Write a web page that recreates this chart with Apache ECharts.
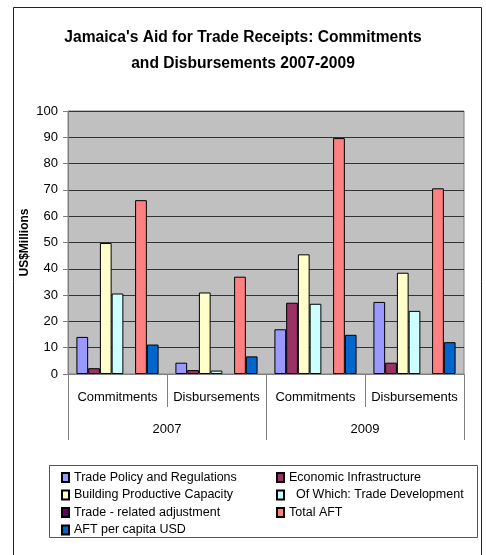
<!DOCTYPE html>
<html>
<head>
<meta charset="utf-8">
<script src="https://cdn.jsdelivr.net/npm/echarts@6/dist/echarts.min.js"></script>
<style>
html,body{margin:0;padding:0;background:#fff;}
#chart{width:486px;height:555px;}
</style>
</head>
<body>
<div id="chart"></div>
<script>
const titleText = "Jamaica's Aid for Trade Receipts: Commitments\nand Disbursements 2007-2009";
const categories = ['Commitments', 'Disbursements', 'Commitments', 'Disbursements'];
const years = ['2007', '2009'];
const yTicks = { min: 0, max: 100, interval: 10 };

const tradePolicy        = [14.1, 4.3, 17.0, 27.4];
const economicInfra      = [2.2, 1.5, 27.1, 4.3];
const buildingCapacity   = [49.8, 31.0, 45.5, 38.5];
const tradeDevelopment   = [30.6, 1.3, 26.7, 24.0];
const tradeAdjustment    = [0, 0, 0, 0];
const totalAFT           = [66.1, 37.0, 89.7, 70.6];
const aftPerCapita       = [11.2, 6.7, 14.9, 12.1];

const seriesNames = [
  'Trade Policy and Regulations',
  'Economic Infrastructure',
  'Building Productive Capacity',
  '  Of Which: Trade Development',
  'Trade - related adjustment',
  'Total AFT',
  'AFT per capita USD'
];
const seriesData = [tradePolicy, economicInfra, buildingCapacity, tradeDevelopment, tradeAdjustment, totalAFT, aftPerCapita];
const seriesColors = ['#9999FF', '#993366', '#FFFFCC', '#CCFFFF', '#660066', '#FF8080', '#0066CC'];

const FONT = 'Liberation Sans, Arial, sans-serif';

const chart = echarts.init(document.getElementById('chart'), null, { renderer: 'canvas' });

const series = seriesNames.map((name, i) => ({
  name: name,
  type: 'bar',
  xAxisIndex: 0,
  yAxisIndex: 0,
  barGap: '0%',
  barCategoryGap: '17%',
  data: seriesData[i].map(v => (v === 0 ? '-' : v)),
  itemStyle: { color: seriesColors[i], borderColor: '#000', borderWidth: 1 },
  emphasis: { disabled: true },
  animation: false
}));

const legendText = { fontFamily: FONT, fontSize: 12.5, color: '#000', lineHeight: 12 };

const option = {
  animation: false,
  backgroundColor: '#fff',
  title: {
    text: titleText,
    left: 'center',
    top: 20,
    textStyle: { fontFamily: FONT, fontSize: 15.6, fontWeight: 'bold', color: '#000', lineHeight: 26 }
  },
  grid: {
    left: 68, top: 111, right: 22, bottom: 181,
    show: true, backgroundColor: '#C0C0C0', borderColor: '#808080', borderWidth: 1
  },
  legend: [
    {
      orient: 'vertical', left: 61, top: 471, padding: 0, icon: 'rect',
      itemWidth: 7, itemHeight: 9, itemGap: 4.5,
      data: [seriesNames[0], seriesNames[2], seriesNames[4], seriesNames[6]],
      textStyle: legendText, selectedMode: false
    },
    {
      orient: 'vertical', left: 276, top: 471, padding: 0, icon: 'rect',
      itemWidth: 7, itemHeight: 9, itemGap: 4.5,
      data: [seriesNames[1], seriesNames[3], seriesNames[5]],
      textStyle: legendText, selectedMode: false
    }
  ],
  xAxis: [
    {
      type: 'category',
      data: categories,
      position: 'bottom',
      axisLine: { show: true, lineStyle: { color: '#808080', width: 1 } },
      axisTick: { show: true, interval: 0, length: 33, lineStyle: { color: '#808080' } },
      axisLabel: { interval: 0, margin: 17, fontFamily: FONT, fontSize: 13, color: '#000' },
      splitLine: { show: false }
    },
    {
      type: 'category',
      data: years,
      position: 'bottom',
      gridIndex: 0,
      axisLine: { show: false },
      axisTick: { show: true, interval: 0, length: 66, lineStyle: { color: '#808080' } },
      axisLabel: { interval: 0, margin: 49, fontFamily: FONT, fontSize: 13, color: '#000' },
      splitLine: { show: false }
    }
  ],
  yAxis: {
    type: 'value',
    min: yTicks.min, max: yTicks.max, interval: yTicks.interval,
    name: 'US$Millions',
    nameLocation: 'middle',
    nameRotate: 90,
    nameGap: 37,
    nameMoveOverlap: false,
    nameTextStyle: { fontFamily: FONT, fontSize: 12, fontWeight: 'bold', color: '#000' },
    axisLine: { show: true, lineStyle: { color: '#808080' } },
    axisTick: { show: true, length: 5, lineStyle: { color: '#808080' } },
    axisLabel: { margin: 10, fontFamily: FONT, fontSize: 13, color: '#000' },
    splitLine: { show: true, lineStyle: { color: '#333', width: 1 } }
  },
  graphic: [
    {
      type: 'rect', z: 100, silent: true,
      shape: { x: 13.5, y: 7.5, width: 468, height: 580 },
      style: { fill: 'none', stroke: '#222', lineWidth: 1 }
    },
    {
      type: 'rect', z: 100, silent: true,
      shape: { x: 49.5, y: 465.5, width: 428, height: 72 },
      style: { fill: 'none', stroke: '#555', lineWidth: 1 }
    }
  ],
  series: series
};

chart.setOption(option);
</script>
</body>
</html>
